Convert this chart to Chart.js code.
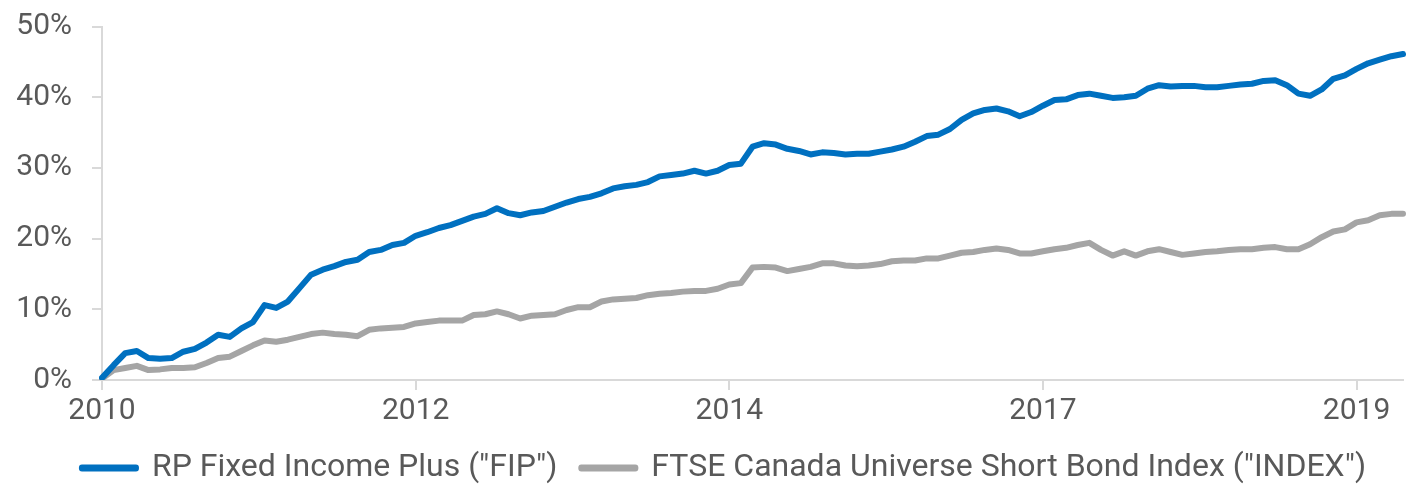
<!DOCTYPE html>
<html>
<head>
<meta charset="utf-8">
<script src="https://cdn.jsdelivr.net/npm/chart.js@4.4.1/dist/chart.umd.min.js"></script>
<style>
    body { margin: 0; background: #fff; }
    #wrap { width: 1420px; height: 490px; }
</style>
</head>
<body>
<div id="wrap"><canvas id="growthChart" width="1420" height="490"></canvas></div>
<script>
// Cumulative return (%), monthly, starting April 2010
const fip = [
    0.3, 2.1, 3.8, 4.1, 3.1, 3.0, 3.1, 4.0, 4.4, 5.3,
    6.4, 6.1, 7.3, 8.2, 10.6, 10.2, 11.1, 13.0, 14.9, 15.6,
    16.1, 16.7, 17.0, 18.1, 18.4, 19.1, 19.4, 20.4, 20.9, 21.5,
    21.9, 22.5, 23.1, 23.5, 24.3, 23.6, 23.3, 23.7, 23.9, 24.5,
    25.1, 25.6, 25.9, 26.4, 27.1, 27.4, 27.6, 28.0, 28.8, 29.0,
    29.2, 29.6, 29.2, 29.6, 30.4, 30.6, 33.0, 33.5, 33.3, 32.7,
    32.4, 31.9, 32.2, 32.1, 31.9, 32.0, 32.0, 32.3, 32.6, 33.0,
    33.7, 34.5, 34.7, 35.5, 36.8, 37.7, 38.2, 38.4, 38.0, 37.3,
    37.9, 38.8, 39.6, 39.7, 40.3, 40.5, 40.2, 39.9, 40.0, 40.2,
    41.2, 41.7, 41.5, 41.6, 41.6, 41.4, 41.4, 41.6, 41.8, 41.9,
    42.3, 42.4, 41.7, 40.5, 40.2, 41.1, 42.6, 43.1, 44.0, 44.8,
    45.3, 45.8, 46.1
];
const shortBondIndex = [
    0.2, 1.4, 1.7, 2.0, 1.4, 1.5, 1.7, 1.7, 1.8, 2.4,
    3.1, 3.3, 4.1, 4.9, 5.6, 5.4, 5.7, 6.1, 6.5, 6.7,
    6.5, 6.4, 6.2, 7.1, 7.3, 7.4, 7.5, 8.0, 8.2, 8.4,
    8.4, 8.4, 9.2, 9.3, 9.7, 9.3, 8.7, 9.1, 9.2, 9.3,
    9.9, 10.3, 10.3, 11.1, 11.4, 11.5, 11.6, 12.0, 12.2, 12.3,
    12.5, 12.6, 12.6, 12.9, 13.5, 13.7, 15.9, 16.0, 15.9, 15.4,
    15.7, 16.0, 16.5, 16.5, 16.2, 16.1, 16.2, 16.4, 16.8, 16.9,
    16.9, 17.2, 17.2, 17.6, 18.0, 18.1, 18.4, 18.6, 18.4, 17.9,
    17.9, 18.2, 18.5, 18.7, 19.1, 19.4, 18.4, 17.6, 18.2, 17.6,
    18.2, 18.5, 18.1, 17.7, 17.9, 18.1, 18.2, 18.4, 18.5, 18.5,
    18.7, 18.8, 18.5, 18.5, 19.2, 20.2, 21.0, 21.3, 22.3, 22.6,
    23.3, 23.5, 23.5
];
const seriesNames = ['RP Fixed Income Plus ("FIP")', 'FTSE Canada Universe Short Bond Index ("INDEX")'];
// months that carry a year label on the x axis
const labelledMonths = ["2010-04", "2012-07", "2014-10", "2017-01", "2019-04"];
const yTicks = [0, 10, 20, 30, 40, 50];

// month categories, one per data point
const months = [];
for (let i = 0; i < fip.length; i++) {
    const d = new Date(2010, 3 + i, 1);
    months.push(d.getFullYear() + "-" + String(d.getMonth() + 1).padStart(2, "0"));
}

const textColor = "#595959";
const axisColor = "#D9D9D9";
const fontFamily = "Roboto, 'Liberation Sans', sans-serif";

// nudge the legend a little right and down, like the original
const legendNudge = {
    id: "legendNudge",
    afterLayout(chart) {
        const lg = chart.legend;
        lg.left += 14; lg.right += 14;
        lg.top += 4; lg.bottom += 4;
    }
};

new Chart(document.getElementById("growthChart"), {
    type: "line",
    data: {
        labels: months,
        datasets: [{
            label: seriesNames[0],
            data: fip,
            borderColor: "#0070C0",
            backgroundColor: "#0070C0",
            borderWidth: 6,
            borderCapStyle: "round",
            borderJoinStyle: "round",
            pointRadius: 0,
            tension: 0
        }, {
            label: seriesNames[1],
            data: shortBondIndex,
            borderColor: "#A5A5A5",
            backgroundColor: "#A5A5A5",
            borderWidth: 6,
            borderCapStyle: "round",
            borderJoinStyle: "round",
            pointRadius: 0,
            tension: 0
        }]
    },
    plugins: [legendNudge],
    options: {
        responsive: false,
        animation: false,
        layout: { padding: { left: 0, right: 0, top: 26.5, bottom: 0 } },
        plugins: {
            tooltip: { enabled: false },
            legend: {
                position: "bottom",
                labels: {
                    boxWidth: 54,
                    boxHeight: 1,
                    padding: 24,
                    color: textColor,
                    font: { family: fontFamily, size: 32 }
                }
            }
        },
        scales: {
            x: {
                type: "category",
                offset: false,
                afterFit: (scale) => { scale.height = 44; },
                grid: { display: true, drawOnChartArea: false, tickLength: 10, color: axisColor, lineWidth: 2 },
                border: { display: true, color: axisColor, width: 2 },
                ticks: {
                    autoSkip: false,
                    maxRotation: 0,
                    padding: 3,
                    color: textColor,
                    font: { family: fontFamily, size: 30 },
                    callback: function (value) {
                        const m = this.getLabelForValue(value);
                        return labelledMonths.includes(m) ? m.slice(0, 4) : null;
                    }
                }
            },
            y: {
                min: yTicks[0],
                max: yTicks[yTicks.length - 1],
                afterFit: (scale) => {
                    scale.width = 102;
                    scale.paddingTop = 0;
                    scale.paddingBottom = 0;
                },
                afterBuildTicks: (scale) => { scale.ticks = yTicks.map(v => ({ value: v })); },
                grid: { display: true, drawOnChartArea: false, tickLength: 10, color: axisColor, lineWidth: 2 },
                border: { display: true, color: axisColor, width: 2 },
                ticks: {
                    padding: 20,
                    color: textColor,
                    font: { family: fontFamily, size: 30 },
                    callback: (v) => v + "%"
                }
            },
            // empty right-hand axis: keeps the line ending short of the edge
            yRight: {
                position: "right",
                display: true,
                afterFit: (scale) => { scale.width = 17; },
                grid: { display: false },
                border: { display: false },
                ticks: { display: false }
            }
        }
    }
});
</script>
</body>
</html>
